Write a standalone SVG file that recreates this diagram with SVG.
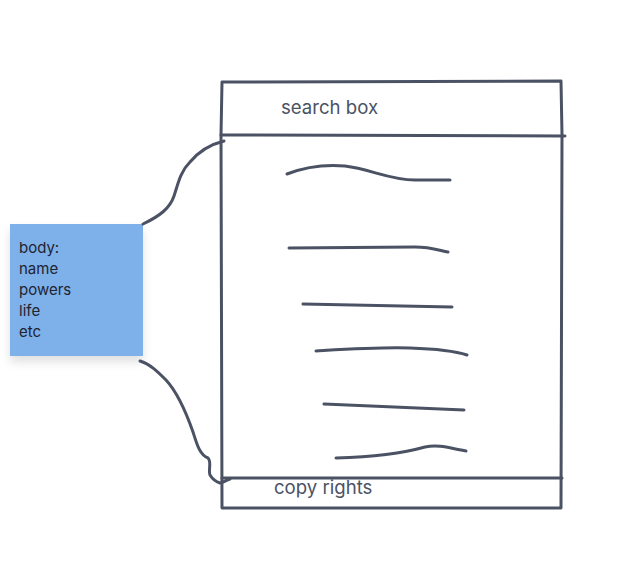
<svg xmlns="http://www.w3.org/2000/svg" width="635" height="565" viewBox="0 0 635 565">
<style>
.ink{fill:none;stroke:#4b5264;stroke-width:3;stroke-linecap:round;stroke-linejoin:round}
.lbl{font-family:"Inter","Liberation Sans",sans-serif;font-size:18.6px;fill:#4b5264}
.body{font-family:"Inter","Liberation Sans",sans-serif;font-size:15px;fill:#1f2430}
</style>
<defs>
<filter id="sh" x="-20%" y="-20%" width="140%" height="150%">
<feDropShadow dx="0" dy="6" stdDeviation="5" flood-color="#000" flood-opacity="0.12"/>
</filter>
</defs>
<rect width="635" height="565" fill="#fff"/>
<g id="page">
<path class="ink" d="M222,82 L561,81 L562,135 L561,508 L222,508 L221,135 Z"/>
<path class="ink" d="M221,135 L565,136"/>
<path class="ink" d="M222,478 L562,478"/>
<text class="lbl" x="281" y="114">search box</text>
<text class="lbl" x="274" y="494">copy rights</text>
</g>
<g id="lines">
<path class="ink" d="M287,174 C305,167 322,164 345,166 C370,169 390,180 415,180 L450,180"/>
<path class="ink" d="M289,248 L415,247 C430,247 438,250 448,252"/>
<path class="ink" d="M303,304 L452,307"/>
<path class="ink" d="M316,351 C350,349 380,347 410,348 C440,349 455,351 467,355"/>
<path class="ink" d="M324,404 L464,410"/>
<path class="ink" d="M336,458 C370,457 400,454 425,447 C440,444 452,449 466,451"/>
</g>
<g id="body-note">
<rect x="10" y="224" width="133" height="132" fill="#7eb0ea" filter="url(#sh)"/>
<text class="body" x="19" y="253">body:</text>
<text class="body" x="19" y="274">name</text>
<text class="body" x="19" y="295">powers</text>
<text class="body" x="19" y="316">life</text>
<text class="body" x="19" y="337">etc</text>
</g>
<g id="connectors">
<path class="ink" d="M143,224 C160,216 170,208 174,196 C178,184 180,172 190,162 C200,150 212,144 224,141"/>
<path class="ink" d="M140,361 C150,364 158,372 166,380 C178,393 186,412 193,432 C197,445 200,455 208,458 C212,462 208,470 210,475 C213,480 217,482 220,483 C223,483 226,480 230,479"/>
</g>
</svg>
